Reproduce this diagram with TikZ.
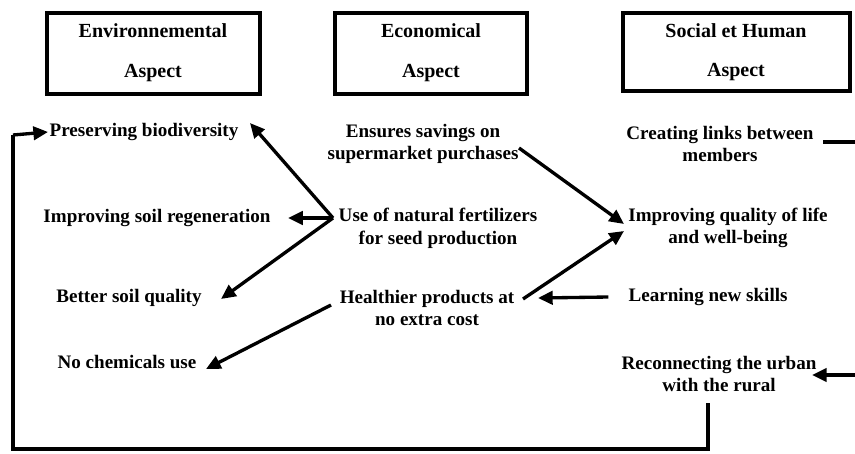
\documentclass[tikz,border=0pt]{standalone}
\usepackage{fontspec}
\setmainfont{Liberation Serif}
\usetikzlibrary{arrows.meta,calc}
\begin{document}
\begin{tikzpicture}[x=0.75pt,y=-0.75pt,
  txt/.style={font=\fontsize{14.3}{17}\selectfont\bfseries, align=center, inner sep=1pt},
  head/.style={font=\fontsize{15}{18}\selectfont\bfseries, inner sep=1pt},
  boxline/.style={line width=2.6pt},
  ln/.style={line width=2.5pt},
  arr/.style={line width=2.5pt,-{Triangle[length=11pt,width=10pt]}}]
\useasboundingbox (0,0) rectangle (855,453);
% header boxes
\draw[boxline] (47,13) rectangle (260,94);
\draw[boxline] (335,13) rectangle (527,94);
\draw[boxline] (623,13) rectangle (850,91);
\node[head] (h1a) at (153,31) {Environnemental};
\node[head] (h1b) at (153,73) {Aspect};
\node[head] (h2a) at (431,31) {Economical};
\node[head] (h2b) at (431,73) {Aspect};
\node[head] (h3a) at (736,31) {Social et Human};
\node[head] (h3b) at (736,72) {Aspect};
% left column
\node[txt] (e1) at (144,132) {Preserving biodiversity};
\node[txt] (e2) at (157,218) {Improving soil regeneration};
\node[txt] (e3) at (129,298) {Better soil quality};
\node[txt] (e4) at (127,362) {No chemicals use};
% middle column
\node[txt] (m1) at (423,144) {Ensures savings on\\supermarket purchases};
\node[txt] (m2) at (438,228) {Use of natural fertilizers\\for seed production};
\node[txt] (m3) at (427,308) {Healthier products at\\no extra cost};
% right column
\node[txt] (s1) at (720,144) {Creating links between\\members};
\node[txt] (s2) at (728,228) {Improving quality of life\\and well-being};
\node[txt,anchor=west] (s3) at (627,297) {Learning new skills};
\node[txt] (s4) at (719,374) {Reconnecting the urban\\with the rural};
% connection points
\coordinate (fan) at (333,218);
\coordinate (lend) at (855,142);
\coordinate (rend) at (855,375);
\coordinate (c1) at (708,449);
\coordinate (c2) at (13,449);
\coordinate (c3) at (13,135);
% arrows
\draw[arr] (fan) -- (250,123);
\draw[arr] (fan) -- ([xshift=12]e2.east);
\draw[arr] (fan) -- (221,299);
\draw[arr] (519,148) -- (624,224);
\draw[arr] (523,299) -- (624,231);
\draw[arr] ([xshift=-14]s3.west) -- (538,298);
\draw[arr] (331,305) -- (206,369);
\draw[ln] (lend) -- (823,142);
\draw[arr] (rend) -- (812,375);
\draw[ln] (708,403) -- (c1) -- (c2) -- (c3);
\draw[arr] (c3) -- (e1.west);
\end{tikzpicture}
\end{document}
